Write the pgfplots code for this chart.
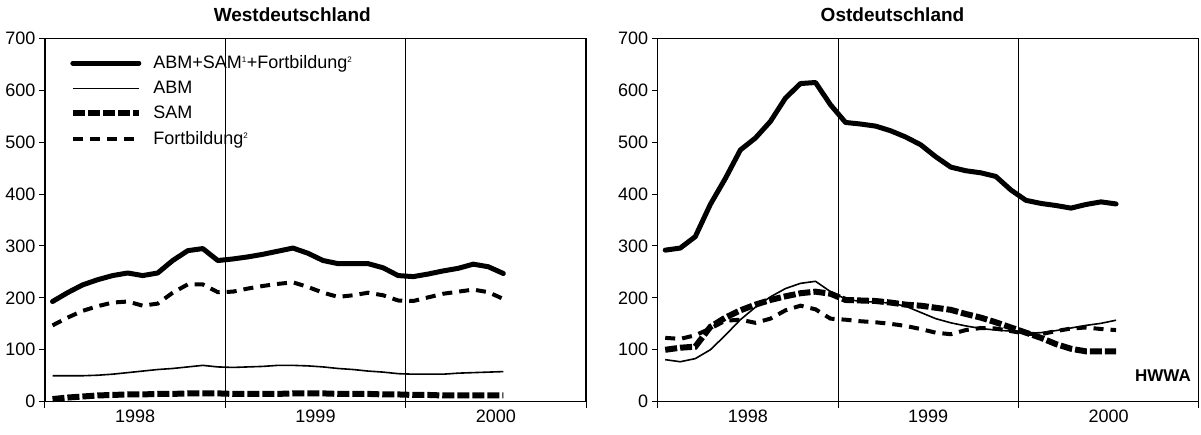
\documentclass[border=0pt]{standalone}
\usepackage{fontspec}
\setmainfont{Liberation Sans}
\usepackage{pgfplots}
\usepackage{pgfplotstable}
\pgfplotsset{compat=1.18}

% monthly values, Jan 1998 = 0.5
\pgfplotstableread{
x    total abm sam fort
0.5  193   50  5   147
1.5  210   50  8   162
2.5  225   50  10  175
3.5  235   51  12  184
4.5  243   53  13  191
5.5  248   56  14  193
6.5  243   59  14  185
7.5  248   62  15  189
8.5  272   64  15  210
9.5  291   67  16  226
10.5 295   70  16  226
11.5 272   67  16  211
12.5 275   66  15  212
13.5 279   67  15  218
14.5 284   68  15  223
15.5 290   70  15  227
16.5 296   70  16  230
17.5 286   69  16  221
18.5 272   67  16  210
19.5 266   64  15  202
20.5 266   62  15  205
21.5 266   59  15  210
22.5 258   57  14  205
23.5 243   54  14  195
24.5 241   53  13  194
25.5 246   53  13  201
26.5 252   53  12  208
27.5 257   55  12  212
28.5 265   56  12  216
29.5 260   57  12  211
30.5 247   58  12  198
}\west

\pgfplotstableread{
x    total abm sam fort
0.5  292   81  100 123
1.5  296   77  104 121
2.5  318   83  106 128
3.5  380   100 144 141
4.5  430   128 162 156
5.5  485   158 176 158
6.5  508   182 187 152
7.5  540   202 196 160
8.5  585   218 203 176
9.5  613   228 209 185
10.5 615   232 212 178
11.5 572   212 208 160
12.5 538   198 196 158
13.5 535   193 195 155
14.5 531   192 194 153
15.5 522   190 191 150
16.5 510   184 187 146
17.5 495   172 185 140
18.5 472   160 181 133
19.5 452   152 177 130
20.5 445   146 169 138
21.5 441   141 162 142
22.5 434   138 153 141
23.5 408   136 143 136
24.5 388   132 133 131
25.5 382   133 123 130
26.5 378   137 111 136
27.5 373   142 102 141
28.5 380   147 97  143
29.5 385   151 97  140
30.5 381   157 97  138
}\ost

\pgfplotsset{
  panel/.style={
    width=541pt, height=363.3pt, scale only axis,
    xmin=0, xmax=36, ymin=0, ymax=700,
    ytick={0,100,...,700},
    xtick={0,12,24,36}, xticklabels={},
    extra x ticks={6,18,30},
    extra x tick labels={1998,1999,2000},
    extra x tick style={major tick length=0pt, xmajorgrids=false,
      xticklabel style={yshift=-5pt}},
    xmajorgrids, grid style={black, line width=1pt},
    tick align=outside, major tick length=6pt,
    xtick pos=bottom, ytick pos=left,
    axis line style={line width=1.2pt},
    tick style={black, line width=1pt},
    ticklabel style={font=\fontsize{18}{21}\selectfont},
    /pgf/number format/assume math mode=true,
    clip=false,
  },
  ltot/.style={black, line width=5pt, line join=round, line cap=round},
  labm/.style={black, line width=1.6pt, line join=round},
  lsam/.style={black, line width=6pt, dash pattern=on 12pt off 3pt},
  lfort/.style={black, line width=4pt, dash pattern=on 10pt off 7pt},
}

\begin{document}
\begin{tikzpicture}[x=1pt,y=1pt]
\useasboundingbox (-45,-33.3) rectangle (1156,401.7);

\begin{axis}[panel,
  legend style={at={(0.040,0.962)}, anchor=north west, draw=none, fill=none,
    font=\fontsize{18}{21}\selectfont, row sep=8pt,
    nodes={inner sep=1.5pt}},
  legend cell align=left,
  legend image code/.code={\draw[#1] (0pt,0pt) -- (66pt,0pt); \path (76pt,0pt);},
]
\addplot[ltot] table[x=x, y=total] {\west};
\addlegendentry{ABM+SAM\textsuperscript{\fontsize{8}{8}\selectfont 1}+Fortbildung\textsuperscript{\fontsize{8}{8}\selectfont 2}}
\addplot[labm] table[x=x, y=abm] {\west};
\addlegendentry{ABM}
\addplot[lsam] table[x=x, y=sam] {\west};
\addlegendentry{SAM}
\addplot[lfort] table[x=x, y=fort] {\west};
\addlegendentry{Fortbildung\textsuperscript{\fontsize{8}{8}\selectfont 2}}
\node[font=\bfseries\fontsize{19}{22}\selectfont] at (rel axis cs:0.457,1.066) {Westdeutschland};
\end{axis}

\begin{axis}[panel, at={(612.7pt,0pt)}]
\addplot[ltot] table[x=x, y=total] {\ost};
\addplot[labm] table[x=x, y=abm] {\ost};
\addplot[lsam] table[x=x, y=sam] {\ost};
\addplot[lfort] table[x=x, y=fort] {\ost};
\node[font=\bfseries\fontsize{19}{22}\selectfont] at (rel axis cs:0.434,1.066) {Ostdeutschland};
\node[font=\bfseries\fontsize{17}{20}\selectfont] at (rel axis cs:0.934,0.073) {HWWA};
\end{axis}
\end{tikzpicture}
\end{document}
